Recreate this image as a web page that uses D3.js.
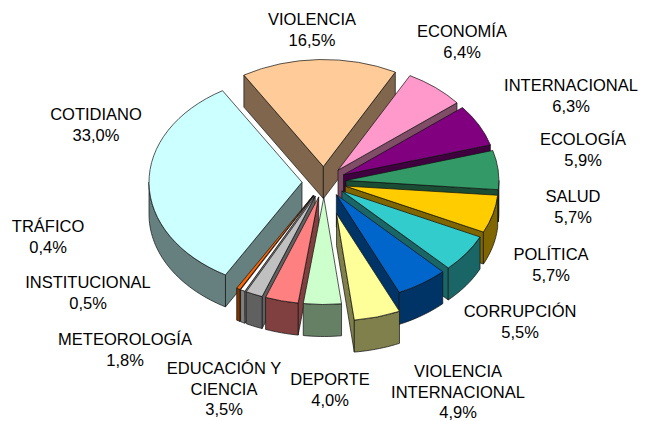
<!DOCTYPE html>
<html>
<head>
<meta charset="utf-8">
<script src="https://cdn.jsdelivr.net/npm/d3@7"></script>
<style>
  html, body { margin: 0; padding: 0; background: #fff; }
  text { font-family: "Liberation Sans", Arial, sans-serif; font-size: 16.5px; fill: #000; text-anchor: middle; }
</style>
</head>
<body>
<div id="chart"></div>
<script>
// chart data, clockwise from the top slice
var categories = ["VIOLENCIA", "ECONOMÍA", "INTERNACIONAL", "ECOLOGÍA", "SALUD", "POLÍTICA", "CORRUPCIÓN",
  "VIOLENCIA|INTERNACIONAL", "DEPORTE", "EDUCACIÓN Y|CIENCIA", "METEOROLOGÍA", "INSTITUCIONAL", "TRÁFICO", "COTIDIANO"]
var values = [16.5, 6.4, 6.3, 5.9, 5.7, 5.7, 5.5, 4.9, 4.0, 3.5, 1.8, 0.5, 0.4, 33.0]

// styling, same order as the data
var colors = ["#FFCC99", "#FF99CC", "#800080", "#339966", "#FFCC00", "#33CCCC", "#0066CC",
  "#FFFF99", "#CCFFCC", "#FF8080", "#C0C0C0", "#FFFFFF", "#FF6600", "#CCFFFF"]
var explode = [22, 22, 22, 22, 22, 22, 22, 47, 22, 22, 22, 22, 22, 22]
var labelPos = [[312, 25], [462, 37], [571, 91], [583, 145], [573, 202], [551, 260], [520, 317],
  [458, 377], [330, 385], [224, 374], [125, 345], [88, 288], [48, 232], [96, 120]]

var svgWidth = 653
var svgHeight = 421
var cx = 324
var cy = 182
var radius = 153
var squash = 0.70
var depth = 32
var startDeg = -31.3

var svg = d3.select("#chart")
  .append("svg")
  .attr("width", svgWidth)
  .attr("height", svgHeight)
  .style("display", "block")

var pie = d3.pie()
  .sort(null)
  .startAngle(startDeg * Math.PI / 180)
  .endAngle((360 + startDeg) * Math.PI / 180)

var arcs = pie(values).map(function(d, i) {
  var c = d3.rgb(colors[i])
  d.mid = (d.startAngle + d.endAngle) / 2
  d.color = colors[i]
  d.side = d3.rgb(c.r / 2, c.g / 2, c.b / 2)
  d.apex = [cx + explode[i] * Math.sin(d.mid), cy - explode[i] * squash * Math.cos(d.mid)]
  return d
})

function rim(d, a) {
  return [d.apex[0] + radius * Math.sin(a), d.apex[1] - radius * squash * Math.cos(a)]
}

function down(p) {
  return [p[0], p[1] + depth]
}

function arcPoints(a0, a1) {
  var n = Math.max(2, Math.ceil((a1 - a0) / 0.03))
  return d3.range(n + 1).map(function(j) { return a0 + (a1 - a0) * j / n })
}

var line = d3.line()

var arcTop = d3.arc()
  .innerRadius(0)
  .outerRadius(radius)

// back slices first so the nearer ones paint over them
var order = arcs.slice().sort(function(a, b) { return a.apex[1] - b.apex[1] })

var slices = svg.selectAll("g.slice")
  .data(order)
  .enter()
  .append("g")
  .attr("class", "slice")

function face(g, pts, fill) {
  g.append("path")
    .attr("d", line(pts) + "Z")
    .attr("fill", fill)
    .attr("stroke", "#111")
    .attr("stroke-width", 0.7)
    .attr("stroke-linejoin", "round")
}

slices.each(function(d) {
  var g = d3.select(this)
  // radial walls that face the viewer
  if (Math.sin(d.startAngle) < 0) {
    var s = rim(d, d.startAngle)
    face(g, [d.apex, s, down(s), down(d.apex)], d.side)
  }
  if (Math.sin(d.endAngle) > 0) {
    var e = rim(d, d.endAngle)
    face(g, [d.apex, e, down(e), down(d.apex)], d.side)
  }
  // outer wall, only the front half of the ellipse shows
  var a0 = Math.max(d.startAngle, Math.PI / 2)
  var a1 = Math.min(d.endAngle, Math.PI * 1.5)
  if (a1 > a0) {
    var upper = arcPoints(a0, a1).map(function(a) { return rim(d, a) })
    face(g, upper.concat(upper.map(down).reverse()), d.side)
  }
  // top face
  g.append("path")
    .attr("d", arcTop(d))
    .attr("transform", "translate(" + d.apex[0] + "," + d.apex[1] + ") scale(1," + squash + ")")
    .attr("vector-effect", "non-scaling-stroke")
    .attr("fill", d.color)
    .attr("stroke", "#111")
    .attr("stroke-width", 0.7)
    .attr("stroke-linejoin", "round")
})

// labels: name lines then the percentage with a decimal comma
var labels = svg.selectAll("text.label")
  .data(categories)
  .enter()
  .append("text")
  .attr("class", "label")
  .attr("transform", function(d, i) { return "translate(" + labelPos[i][0] + "," + labelPos[i][1] + ")" })

labels.each(function(d, i) {
  var lines = d.split("|").concat([d3.format(".1f")(values[i]).replace(".", ",") + "%"])
  d3.select(this).selectAll("tspan")
    .data(lines)
    .enter()
    .append("tspan")
    .attr("x", 0)
    .attr("y", function(t, j) { return j * 20.6 })
    .text(function(t) { return t })
})
</script>
</body>
</html>
